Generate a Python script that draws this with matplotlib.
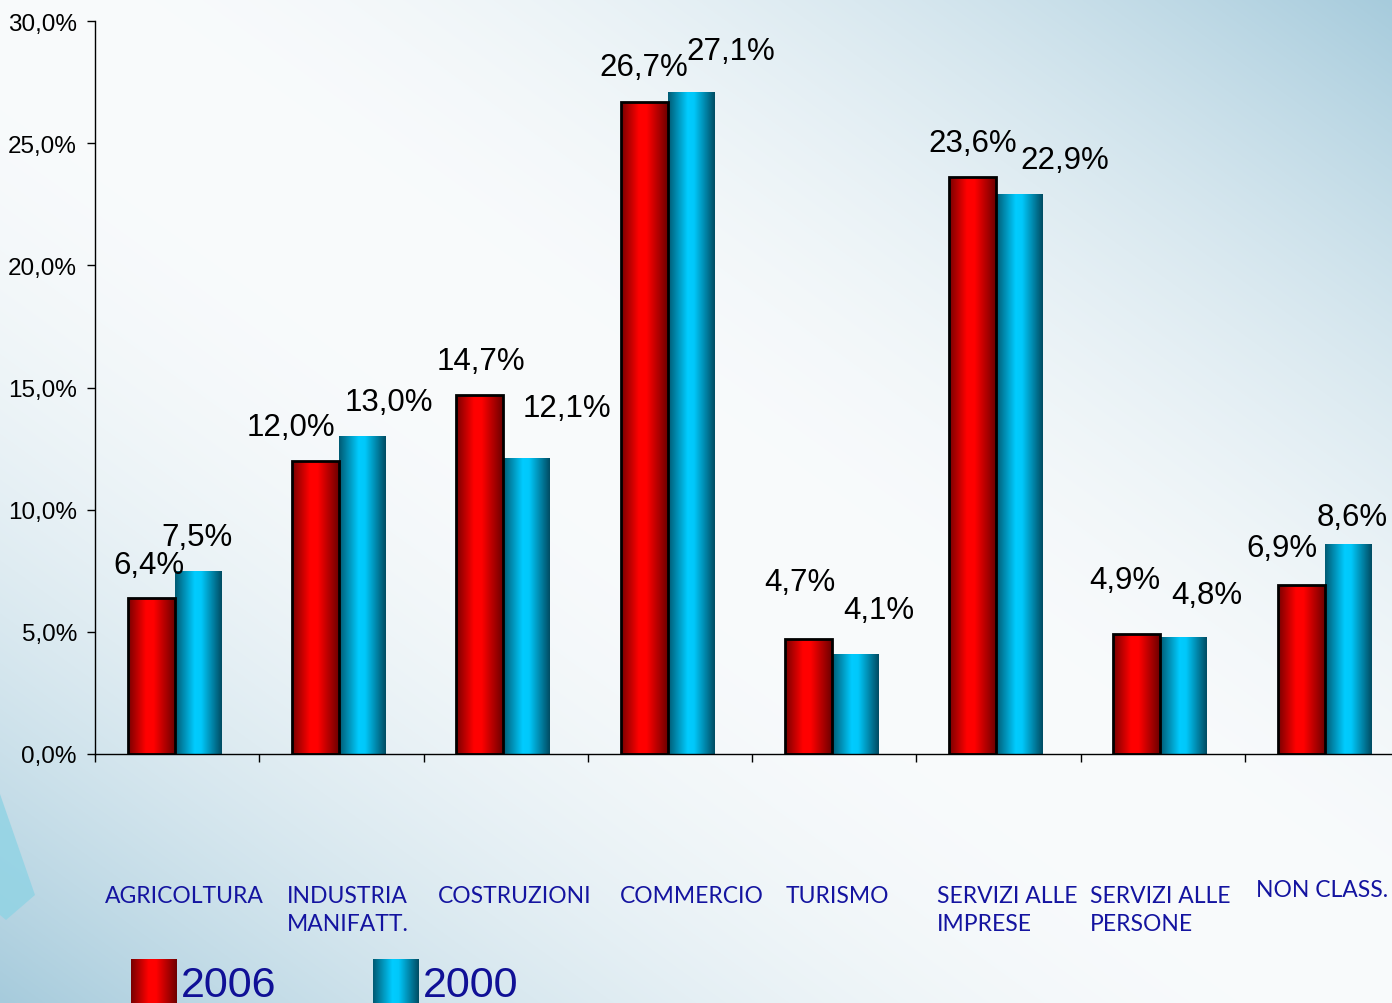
"""Quota per settore: confronto 2006 / 2000, barre affiancate con sfumatura."""
import matplotlib.pyplot as plt
import numpy as np
from matplotlib.colors import LinearSegmentedColormap
from matplotlib.patches import Polygon
from matplotlib.transforms import blended_transform_factory

categories = ["AGRICOLTURA", "INDUSTRIA\nMANIFATT.", "COSTRUZIONI", "COMMERCIO",
              "TURISMO", "SERVIZI ALLE\nIMPRESE", "SERVIZI ALLE\nPERSONE", "NON CLASS."]
share_2006 = [6.4, 12.0, 14.7, 26.7, 4.7, 23.6, 4.9, 6.9]
share_2000 = [7.5, 13.0, 12.1, 27.1, 4.1, 22.9, 4.8, 8.6]
series_names = ["2006", "2000"]
y_ticks = [0, 5, 10, 15, 20, 25, 30]

# label placement (pixels), copied from the slide's hand-placed labels
red_dx = [-2, -25, 1, 0, -8, 0, -12, -19]
red_dy = [25, 26, 26, 27, 49, 26, 46, 29]
cyan_dx = [-1, 26, 40, 40, 23, 45, 23, 4]
cyan_dy = [26, 26, 42, 33, 36, 26, 34, 19]
cat_dx = [0.06, 0.17, 0.09, 0.195, 0.207, 0.128, 0.055, 0.067]
cat_base = [903, 903, 903, 903, 903, 903, 903, 897]  # first-line baseline

W, H = 1392, 1004
NUM = "Liberation Sans"
BLUE_TXT = "#1414a0"

red_cmap = LinearSegmentedColormap.from_list(
    "red", [(0, "#780000"), (0.38, "#ff0000"), (0.55, "#ff0000"), (1, "#6e0000")])
cyan_cmap = LinearSegmentedColormap.from_list(
    "cyan", [(0, "#005a73"), (0.42, "#00ccff"), (0.56, "#00c8fa"), (1, "#004c63")])
grad = np.linspace(0, 1, 128)[None, :]


def pct(v):
    return f"{v:.1f}".replace(".", ",") + "%"


def shade(ax, bars, cmap):
    for b in bars:
        x0, y0, w, h = b.get_x(), b.get_y(), b.get_width(), b.get_height()
        im = ax.imshow(grad, cmap=cmap, extent=[x0, x0 + w, y0, y0 + h],
                       aspect="auto", zorder=2, interpolation="bilinear")
        im.set_clip_path(b)


fig = plt.figure(figsize=(W / 100, H / 100), dpi=100)

# slide background: white band on the diagonal, light blue corners
bg = fig.add_axes([0, 0, 1, 1], zorder=-10)
yy, xx = np.mgrid[0:1:H * 1j, 0:1:W * 1j]
t = np.clip(np.abs(xx - yy), 0, 1) ** 2.0
white = np.array([249, 251, 252]) / 255
blue = np.array([166, 203, 220]) / 255
bg.imshow(white + (blue - white) * t[..., None], extent=[0, 1, 0, 1], aspect="auto")
deco = [(0, 795), (35, 896), (6, 921), (0, 916)]
bg.add_patch(Polygon([(x / W, 1 - y / H) for x, y in deco], closed=True,
                     facecolor="#8fd3e4", edgecolor="none", alpha=0.8))
bg.set_xlim(0, 1)
bg.set_ylim(0, 1)
bg.axis("off")

ax = fig.add_axes([95 / W, (H - 755) / H, 1314 / W, 733 / H])
ax.patch.set_alpha(0)

x = np.arange(len(categories))
bw = 0.286
red_bars = ax.bar(x + 0.2 + bw / 2, share_2006, bw, facecolor="none",
                  edgecolor="black", linewidth=2, zorder=3)
cyan_bars = ax.bar(x + 0.2 + 1.5 * bw, share_2000, bw, facecolor="none",
                   edgecolor="none", zorder=3)
shade(ax, red_bars, red_cmap)
shade(ax, cyan_bars, cyan_cmap)

for i, b in enumerate(red_bars):
    ax.annotate(pct(share_2006[i]), (b.get_x() + b.get_width() / 2, share_2006[i]),
                xytext=(red_dx[i], red_dy[i]), textcoords="offset pixels",
                ha="center", va="baseline", fontsize=22.5, family=NUM, zorder=5)
for i, b in enumerate(cyan_bars):
    ax.annotate(pct(share_2000[i]), (b.get_x() + b.get_width() / 2, share_2000[i]),
                xytext=(cyan_dx[i], cyan_dy[i]), textcoords="offset pixels",
                ha="center", va="baseline", fontsize=22.5, family=NUM, zorder=5)

ax.set_xlim(0, len(categories))
ax.set_ylim(0, 30)
ax.set_yticks(y_ticks)
ax.set_yticklabels([pct(v) for v in y_ticks], family=NUM, fontsize=17.5)
ax.set_xticks(np.arange(len(categories) + 1))
ax.set_xticklabels([])
ax.tick_params(axis="both", direction="out", length=6, width=1, color="black")
ax.tick_params(axis="y", pad=7)
for side in ("top", "right"):
    ax.spines[side].set_visible(False)
for side in ("left", "bottom"):
    ax.spines[side].set_linewidth(1)

# category names sit in loose text boxes below the axis; two-line names are
# drawn line by line so each baseline lands where the slide has it
trans = blended_transform_factory(ax.transData, fig.transFigure)
for i, name in enumerate(categories):
    for k, line in enumerate(name.split("\n")):
        ax.text(i + cat_dx[i], 1 - (cat_base[i] + 28 * k) / H, line, transform=trans,
                ha="left", va="baseline", fontsize=16.5, family="Lato",
                color=BLUE_TXT, clip_on=False)

# legend, partly cut by the slide's lower edge
for left, cmap, name in [(131, red_cmap, series_names[0]), (373, cyan_cmap, series_names[1])]:
    sw = fig.add_axes([left / W, (H - 1006) / H, 46 / W, 46 / H])
    sw.imshow(grad, cmap=cmap, aspect="auto", extent=[0, 1, 0, 1])
    sw.axis("off")
    fig.text((left + 50) / W, 1 - 997 / H, name, fontsize=31, family=NUM,
             color="#101096", ha="left", va="baseline")

fig.savefig("out.png", dpi=100)
